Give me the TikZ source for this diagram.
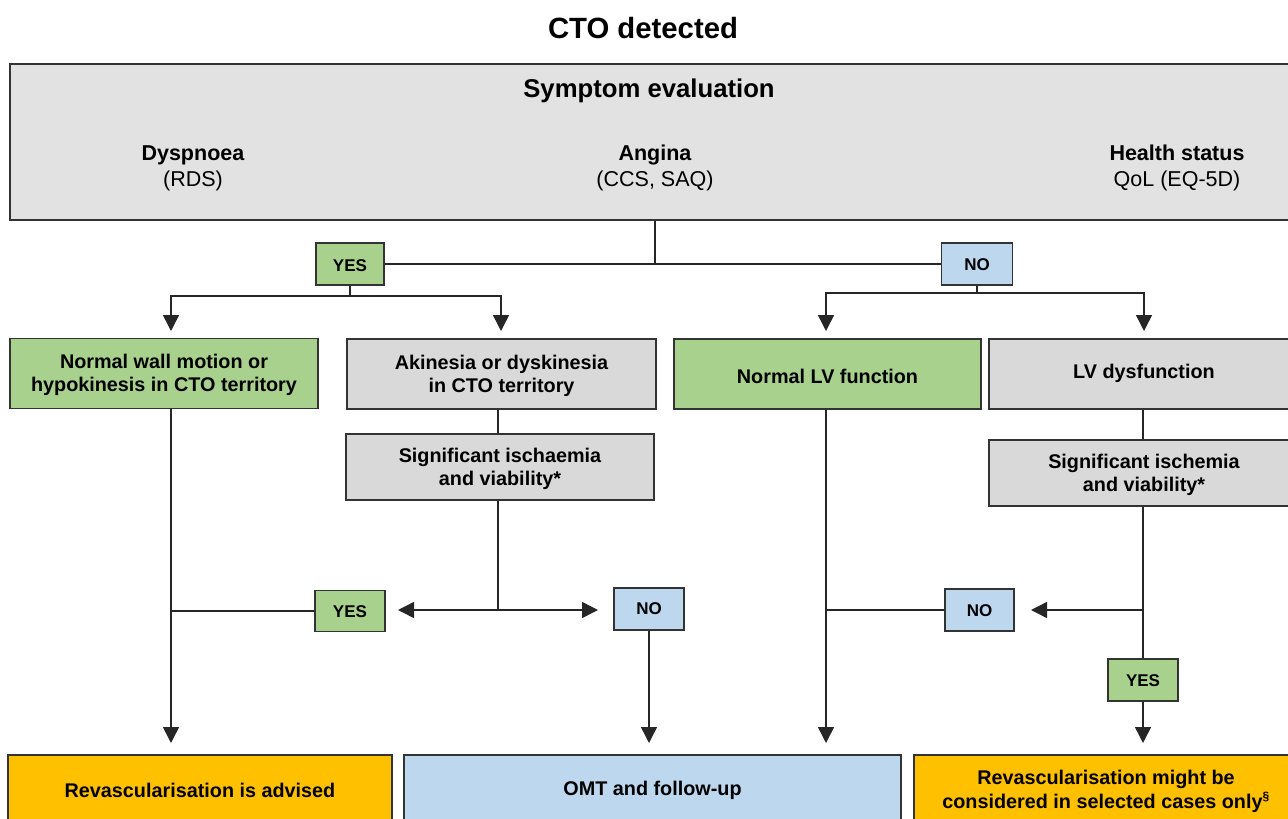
\documentclass[tikz,border=0pt]{standalone}
\usepackage{fontspec}
\setmainfont{Liberation Sans}
\usetikzlibrary{arrows.meta}
\definecolor{cgreen}{HTML}{A9D18E}
\definecolor{cgray}{HTML}{D9D9D9}
\definecolor{cgrayl}{HTML}{E2E2E2}
\definecolor{cblue}{HTML}{BDD7EE}
\definecolor{corange}{HTML}{FFC000}
\definecolor{cline}{HTML}{333333}
\begin{document}
\begin{tikzpicture}[x=1pt,y=-1pt,
  box/.style={draw=cline,line width=1.3pt,inner sep=0pt,align=center},
  tag/.style={draw=cline,line width=1.3pt,inner sep=0pt,minimum width=69pt,minimum height=41pt},
  tagtxt/.style={inner sep=0pt,font=\fontsize{17}{18}\selectfont\bfseries},
  btxt/.style={inner sep=0pt,align=center,font=\fontsize{19.8}{23}\selectfont\bfseries},
  conn/.style={draw=black!85,line width=1.5pt},
  arr/.style={conn,-{Triangle[width=16pt,length=16pt]}},
  lbl/.style={inner sep=0pt,align=center}]
\useasboundingbox (0,0) rectangle (1288,819);
\clip (0,0) rectangle (1288,819);
\fill[white] (0,0) rectangle (1288,819);
% title
\node[lbl,font=\fontsize{29.3}{32}\selectfont\bfseries] (title) at (643,28) {CTO detected};
% symptom box
\node[box,fill=cgrayl,minimum width=1282pt,minimum height=156pt] (symp) at (651,142) {};
\node[lbl,font=\fontsize{25.7}{30}\selectfont\bfseries] (symt) at (649,91) {Symptom evaluation};
\node[lbl,font=\fontsize{21.5}{26}\selectfont] (dysp) at (193,168) {\textbf{Dyspnoea}\\(RDS)};
\node[lbl,font=\fontsize{21.5}{26}\selectfont] (ang) at (655,168) {\textbf{Angina}\\(CCS, SAQ)};
\node[lbl,font=\fontsize{21.5}{26}\selectfont] (health) at (1177,168) {\textbf{Health status}\\QoL (EQ-5D)};
% yes / no top
\node[tag,fill=cgreen,minimum width=68pt,minimum height=42pt] (yes1) at (350,264) {};
\node[tagtxt] (yes1t) at (350,266) {YES};
\node[tag,fill=cblue,minimum width=71pt,minimum height=42pt] (no1) at (977,264) {};
\node[tagtxt] (no1t) at (977,265) {NO};
% second row
\node[box,fill=cgreen,minimum width=308pt,minimum height=70pt] (nwm) at (164,373.5) {};
\node[btxt] (nwmt) at (164,375) {Normal wall motion or\\hypokinesis in CTO territory};
\node[box,fill=cgray,minimum width=309pt,minimum height=70pt] (aki) at (501.5,374) {};
\node[btxt] (akit) at (501.5,375.5) {Akinesia or dyskinesia\\in CTO territory};
\node[box,fill=cgreen,minimum width=307pt,minimum height=70pt] (nlv) at (827.5,374) {};
\node[btxt] (nlvt) at (827.5,376) {Normal LV function};
\node[box,fill=cgray,minimum width=310pt,minimum height=70pt] (lvd) at (1144,374) {};
\node[btxt] (lvdt) at (1144,373) {LV dysfunction};
\node[box,fill=cgray,minimum width=308pt,minimum height=66pt] (sig1) at (500,467) {};
\node[btxt] (sig1t) at (500,469) {Significant ischaemia\\and viability*};
\node[box,fill=cgray,minimum width=310pt,minimum height=66pt] (sig2) at (1144,473) {};
\node[btxt] (sig2t) at (1144,475) {Significant ischemia\\and viability*};
% yes/no middle
\node[tag,fill=cgreen,minimum width=70pt,minimum height=41pt] (yes2) at (350,611) {};
\node[tagtxt] (yes2t) at (350,612) {YES};
\node[tag,fill=cblue,minimum width=70pt,minimum height=42pt] (no2) at (649,609) {};
\node[tagtxt] (no2t) at (649,609) {NO};
\node[tag,fill=cblue,minimum width=69pt,minimum height=42pt] (no3) at (979.5,610) {};
\node[tagtxt] (no3t) at (979.5,611) {NO};
\node[tag,fill=cgreen,minimum width=70pt,minimum height=42pt] (yes3) at (1143,680) {};
\node[tagtxt] (yes3t) at (1143,681) {YES};
% bottom boxes
\node[box,fill=corange,minimum width=384pt,minimum height=76pt] (rev1) at (200,793) {};
\node[btxt] (rev1t) at (200,790) {Revascularisation is advised};
\node[box,fill=cblue,minimum width=497pt,minimum height=76pt] (omt) at (652.5,793) {};
\node[btxt] (omtt) at (652.5,790) {OMT and follow-up};
\node[box,fill=corange,minimum width=384pt,minimum height=76pt] (rev2) at (1106,793) {};
\node[lbl,font=\fontsize{19.8}{24}\selectfont\bfseries] (rev2t) at (1106,791) {Revascularisation might be\\considered in selected cases only\textsuperscript{\fontsize{12}{12}\selectfont §}};
% coordinates
\coordinate (j0) at (655,264);
\coordinate (yb) at (350,296);
\coordinate (nb) at (977,293);
\coordinate (a1) at (171,331);
\coordinate (a2) at (501,331);
\coordinate (a3) at (826,331);
\coordinate (a4) at (1144,331);
\coordinate (j1) at (498,610);
\coordinate (t1) at (398,610);
\coordinate (t2) at (598,610);
\coordinate (j2) at (1143,610);
\coordinate (t3) at (1031,610);
\coordinate (a5) at (171,743);
\coordinate (a6) at (649,743);
\coordinate (a7) at (826,743);
\coordinate (a8) at (1143,743);
% connectors
\draw[conn] (symp.south -| j0) -- (j0);
\draw[conn] (yes1.east) -- (no1.west);
\draw[conn] (yes1.south) -- (yb);
\draw[arr] (yb) -| (a1);
\draw[arr] (yb) -| (a2);
\draw[conn] (no1.south) -- (nb);
\draw[arr] (nb) -| (a3);
\draw[arr] (nb) -| (a4);
\draw[conn] (aki.south -| j1) -- (sig1.north -| j1);
\draw[conn] (sig1.south -| j1) -- (j1);
\draw[arr] (j1) -- (t1);
\draw[arr] (j1) -- (t2);
\draw[arr] (nwm.south -| a5) -- (a5);
\draw[conn] (yes2.west) -- (yes2.west -| a5);
\draw[arr] (no2.south) -- (a6);
\draw[arr] (nlv.south -| a7) -- (a7);
\draw[conn] (no3.west) -- (no3.west -| a7);
\draw[conn] (lvd.south -| j2) -- (sig2.north -| j2);
\draw[conn] (sig2.south -| j2) -- (yes3.north);
\draw[arr] (j2) -- (t3);
\draw[arr] (yes3.south) -- (a8);
\end{tikzpicture}
\end{document}
